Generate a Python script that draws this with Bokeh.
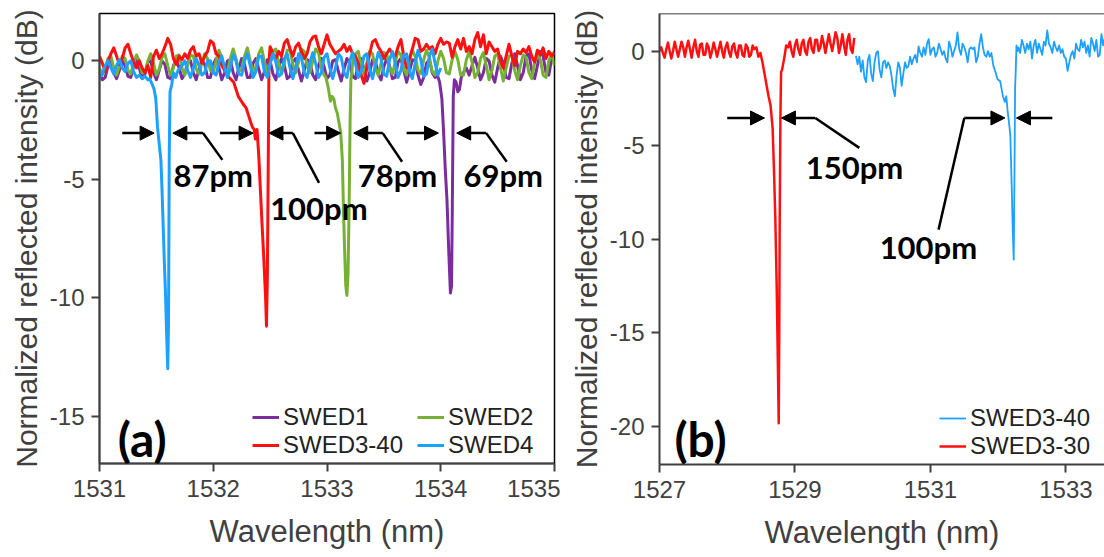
from bokeh.plotting import figure
from bokeh.models import (Range1d, Legend, LegendItem, Arrow, NormalHead, Label, FixedTicker, Span)
from bokeh.layouts import row
from bokeh.embed import file_html
from bokeh.resources import INLINE

# ---------------- data: panel (a) ----------------
STEP = 0.025
# SWED4 (blue)
a4_pre_start = 1531.000
a4_pre_y = [-0.7, -0.55, -0.2, 0.0, -0.3, -0.55, -0.2, 0.05, -0.3, -0.45, -0.1, 0.0, -0.45, -0.7, -0.6, -0.75, -0.65, -0.8]
a4_dip_x = [1531.44, 1531.46, 1531.48, 1531.495, 1531.51, 1531.525, 1531.54, 1531.55, 1531.56, 1531.57, 1531.58, 1531.59, 1531.60, 1531.607, 1531.613, 1531.62, 1531.635, 1531.65, 1531.67, 1531.69, 1531.71]
a4_dip_y = [-0.75, -0.95, -1.2, -1.6, -2.8, -3.5, -4.2, -5.5, -7.0, -8.5, -9.8, -11.5, -13.0, -11.0, -4.0, -1.3, -1.0, -0.5, -0.7, -0.4, -0.3]
a4_post_start = 1531.725
a4_post_y = [-0.2, 0.0, -0.4, -0.7, -0.3, 0.1, -0.2, -0.6, -0.5, 0.0, 0.0, -0.5, -0.6, -0.05, 0.2, -0.3, -0.7, -0.3, 0.25, 0.0,
             -0.55, -0.6, 0.0, 0.3, -0.2, -0.7, -0.45, 0.2, 0.2, -0.45, -0.7, -0.1, 0.3, -0.05, -0.65, -0.55, 0.1, 0.3, -0.3, -0.75,
             -0.3, 0.3, 0.15, -0.5, -0.7, -0.05, 0.35, -0.1, -0.7, -0.5, 0.15, 0.3, -0.3, -0.75, -0.3, 0.3, 0.15, -0.5, -0.7, 0.0,
             0.35, -0.1, -0.7, -0.45, 0.2, 0.3, -0.35, -0.75, -0.2, 0.35, 0.1, -0.55, -0.65, 0.05, 0.4, -0.1, -0.7, -0.4, 0.25, 0.3,
             -0.4, -0.75, -0.1, 0.45, 0.05, -0.65, -0.55, 0.2, 0.5, -0.1, -0.6, -0.3]

# SWED3-40 (red)
a3_pre_start = 1531.000
a3_pre_y = [0.2, -0.1, -0.45, 0.0, 0.3, 0.55, 0.2, -0.15, 0.1, 0.55, 0.7, 0.3, -0.05, -0.3, 0.0, -0.3, -0.5, -0.2, -0.7, 0.2,
            0.45, 0.1, 0.3, 0.6, 0.95, 0.7, 0.1, -0.15, 0.2, 0.05, 0.3, 0.1, 0.45, 0.6, 0.2, 0.3, -0.1, 0.2, 0.4, 0.85,
            0.75, 0.3, 0.2, -0.2, -0.4, -0.6]
a3_dip_x = [1532.14, 1532.18, 1532.22, 1532.26, 1532.29, 1532.31, 1532.33, 1532.345, 1532.36, 1532.37, 1532.385, 1532.40, 1532.415, 1532.43, 1532.445, 1532.46, 1532.468, 1532.476, 1532.484, 1532.49, 1532.50, 1532.51]
a3_dip_y = [-0.7, -0.9, -1.5, -1.8, -2.0, -2.3, -2.6, -2.8, -2.9, -3.3, -2.9, -4.0, -5.5, -7.0, -8.4, -10.0, -11.2, -9.0, -4.0, 0.0, 0.6, 0.5]
a3_post_start = 1532.525
a3_post_y = [0.3, 0.1, 0.4, 0.2, 0.75, 0.9, 0.5, 0.2, 0.6, 0.75, 0.4, 0.1, 0.3, 0.8, 1.0, 1.05, 0.6, 0.3, 0.7, 1.1,
             0.7, 0.5, 0.3, 0.4, 0.5, 0.7, 0.4, 0.6, 0.3, 0.2, -0.1, -0.6, -0.95, -0.3, 0.3, 0.8, 0.9, 0.6, 0.4, 0.1,
             0.3, 0.5, 0.3, 0.2, 0.6, 0.9, 0.2, -0.3, 0.1, 0.5, 0.95, 0.9, 0.4, 0.5, 0.7, 0.5, 0.6, 0.3, 0.7, 0.95,
             0.7, 0.8, 0.75, 0.15, 0.6, 0.9, 0.5, 0.95, 0.4, 0.6, 0.3, 0.9, 1.2, 0.6, 1.1, 0.3, 0.8, 0.6, 0.4, 0.5,
             0.0, -0.3, 0.2, 0.7, 0.2, -0.2, 0.4, 0.3, 0.5, 0.35, 0.6, 0.2, -0.05, 0.45, 0.25, 0.55, 0.1, 0.4, 0.2, 0.35]

# SWED2 (green)
a2_pre_start = 1531.000
a2_pre_y = [-0.3, -0.6, -0.4, 0.1, 0.2, -0.3, -0.6, -0.2, 0.2, 0.1, -0.4, -0.55, -0.1, 0.25, 0.0, -0.5, -0.5, 0.0, 0.3, -0.1,
            -0.6, -0.35, 0.15, 0.3, -0.2, -0.6, -0.3, 0.2, 0.25, -0.3, -0.6, -0.2, 0.25, 0.2, -0.35, -0.55, -0.1, 0.3, 0.1, -0.4,
            -0.5, 0.0, 0.45, 0.15, -0.4, -0.45, 0.1, 0.5, 0.1, -0.45, -0.35, 0.2, 0.55, 0.0, -0.45, -0.25, 0.3, 0.55, -0.05, -0.5,
            -0.15, 0.4, 0.5, -0.1, -0.5, -0.1, 0.45, 0.45, -0.15, -0.5, -0.05, 0.5, 0.4, -0.2, -0.5, 0.0, 0.5, 0.35, -0.3, -0.6]
a2_dip_x = [1532.99, 1533.01, 1533.03, 1533.045, 1533.06, 1533.075, 1533.09, 1533.105, 1533.12, 1533.135, 1533.145, 1533.155, 1533.165, 1533.175, 1533.185, 1533.195, 1533.203, 1533.21, 1533.22, 1533.23]
a2_dip_y = [-0.7, -1.1, -1.7, -1.5, -1.6, -2.0, -2.2, -2.6, -3.0, -4.2, -6.3, -8.0, -9.5, -9.9, -9.0, -6.0, -2.5, -0.8, -0.4, 0.2]
a2_post_start = 1533.250
a2_post_y = [0.3, 0.4, -0.2, -0.55, -0.1, 0.4, 0.3, -0.3, -0.6, -0.1, 0.35, 0.3, -0.3, -0.55, -0.05, 0.4, 0.25, -0.35, -0.6, 0.0,
             0.45, 0.2, -0.4, -0.55, 0.05, 0.45, 0.15, -0.45, -0.6, 0.0, 0.4, 0.1, -0.5, -0.55, 0.05, 0.4, 0.05, -0.6, -0.6, 0.05,
             0.4, -0.05, -0.7, -0.5, 0.1, 0.35, -0.2, -0.8, -0.4, 0.2, 0.3, -0.3, -0.85, -0.3, 0.2, 0.25, -0.4, -0.8, -0.2, 0.25,
             0.15, -0.5, -0.75, -0.1, 0.3, 0.05, -0.6, -0.7, 0.0, 0.3, -0.2]

# SWED1 (purple)
a1_pre_start = 1531.000
a1_pre_y = [-0.4, -0.8, -0.7, -0.2, 0.0, -0.5, -0.75, -0.4, 0.0, -0.2, -0.65, -0.7, -0.2, 0.05, -0.3, -0.75, -0.55, -0.05, 0.0, -0.5,
            -0.8, -0.4, 0.0, -0.15, -0.7, -0.75, -0.2, 0.05, -0.3, -0.75, -0.55, -0.05, 0.0, -0.5, -0.8, -0.35, 0.05, -0.15, -0.7, -0.7,
            -0.15, 0.1, -0.3, -0.8, -0.5, 0.0, 0.05, -0.5, -0.8, -0.3, 0.1, -0.15, -0.7, -0.7, -0.1, 0.1, -0.35, -0.8, -0.45, 0.05,
            0.0, -0.55, -0.8, -0.25, 0.1, -0.2, -0.75, -0.65, -0.05, 0.1, -0.4, -0.85, -0.4, 0.05, -0.05, -0.6, -0.8, -0.2, 0.1, -0.25,
            -0.75, -0.6, 0.0, 0.05, -0.45, -0.85, -0.35, 0.1, -0.1, -0.65, -0.75, -0.1, 0.1, -0.35, -0.85, -0.5, 0.05, 0.0, -0.55, -0.8,
            -0.25, 0.1, -0.2, -0.75, -0.7, -0.05, 0.1, -0.4, -0.9, -0.45, 0.05, 0.0, -0.6, -1.0, -0.7, -0.1, 0.05, -0.5, -0.7]
a1_dip_x = [1533.97, 1533.99, 1534.01, 1534.025, 1534.04, 1534.055, 1534.07, 1534.085, 1534.095, 1534.102, 1534.11, 1534.12, 1534.135, 1534.15, 1534.165, 1534.18, 1534.20, 1534.21]
a1_dip_y = [-0.6, -0.9, -1.6, -3.0, -4.6, -5.9, -8.0, -9.8, -9.5, -6.0, -1.5, -0.8, -0.9, -1.3, -1.2, -0.7, -0.5, -0.4]
a1_post_start = 1534.225
a1_post_y = [-0.3, -0.6, -0.2, 0.15, -0.3, -0.8, -0.5, 0.1, 0.0, -0.6, -0.9, -0.3, 0.2, -0.1, -0.7, -0.75, -0.1, 0.3, -0.2, -0.8,
             -0.5, 0.2, 0.3, -0.4, -0.75, -0.2, 0.4, 0.2, -0.5, -0.6, 0.1, 0.4]

# ---------------- data: panel (b) ----------------
# SWED3-30 (red)
b30_pre_start = 1527.000
b30_pre_y = [0.0, 0.2, -0.1, -0.35, 0.1, 0.45, 0.0, -0.4, 0.0, 0.5, 0.1, -0.3, 0.1, 0.5, 0.2, -0.3, 0.2, 0.55, 0.1, -0.35,
             0.2, 0.6, 0.0, -0.3, 0.35, 0.4, -0.2, -0.2, 0.4, 0.2, -0.35, 0.0, 0.45, 0.1, -0.3, 0.1, 0.5, 0.0, -0.35, 0.2,
             0.45, -0.05, -0.3, 0.25, 0.4, -0.1, -0.35, 0.3, 0.3, -0.2, -0.3, 0.35, 0.2, -0.3, -0.2, 0.3]
b30_dip_x = [1528.40, 1528.43, 1528.46, 1528.49, 1528.52, 1528.55, 1528.58, 1528.61, 1528.64, 1528.67, 1528.69, 1528.71, 1528.73, 1528.745, 1528.76, 1528.768, 1528.775, 1528.785, 1528.795, 1528.81, 1528.83, 1528.85, 1528.87]
b30_dip_y = [0.1, 0.2, -0.3, -0.1, -0.6, -1.2, -1.8, -2.4, -2.9, -4.1, -6.3, -8.9, -12.5, -16.0, -19.8, -15.0, -8.9, -3.6, -1.1, -1.0, -0.6, -0.2, 0.3]
b30_post_start = 1528.900
b30_post_y = [0.2, 0.5, 0.0, -0.3, 0.3, 0.6, 0.1, -0.2, 0.4, 0.6, 0.0, -0.2, 0.5, 0.7, 0.1, -0.1, 0.6, 0.6, 0.0, 0.2,
              0.8, 0.4, -0.1, 0.4, 0.9, 0.4, 0.0, 0.5, 1.0, 0.7, -0.1, 0.3, 0.9, 0.3, -0.2, 0.6, 0.9, 0.1, -0.1, 0.7]

# SWED3-40 (blue)
b40_pre_start = 1529.900
b40_pre_y = [-0.25, -0.7, -0.3, -1.1, -0.5, -1.4, -1.65, -0.5, -0.2, -1.2, -1.6, -0.6, -0.1, 0.0, -1.0, -1.4, -0.6, -0.5, -0.9, -0.6,
             -0.8, -1.3, -2.0, -2.4, -1.3, -0.6, -0.9, -1.85, -1.2, -0.6, -0.9, -0.8, -0.3, -0.7, -0.4, -0.2, -0.6, 0.25, -0.1, -0.3,
             0.2, -0.2, 0.4, 0.64, -0.2, 0.1, 0.2, -0.3, -0.1, 0.4, 0.1, -0.2, 0.0, -0.4, -0.6, 0.5, 0.2, -0.3, 0.0, 0.3,
             1.0, 0.1, -0.2, 0.4, 0.2, -0.1, -0.6, 0.1, 0.2, 0.1, 0.2, -0.6, -0.3, 0.4, 0.9, 0.2, -0.2, -0.3, 0.0, -0.3, -0.1]
b40_dip_x = [1531.93, 1531.96, 1531.99, 1532.03, 1532.07, 1532.10, 1532.12, 1532.14, 1532.16, 1532.18, 1532.20, 1532.215, 1532.23, 1532.24, 1532.25, 1532.26, 1532.27, 1532.29]
b40_dip_y = [-0.8, -1.1, -1.5, -1.6, -2.4, -2.7, -2.4, -3.2, -3.8, -4.5, -7.2, -9.5, -11.1, -7.0, -2.0, -1.0, 0.3, 0.0]
b40_post_start = 1532.300
b40_post_y = [0.2, -0.1, 0.6, 0.3, -0.1, 0.4, 0.1, 0.5, -0.4, 0.3, 0.6, -0.1, 0.4, 0.1, -0.2, 0.5, 0.3, 1.1, 0.4, 0.2,
              -0.1, 0.5, 0.2, 0.0, 0.3, -0.1, 0.1, -0.3, -0.4, -1.05, -0.6, -0.2, 0.0, -0.4, 0.4, 0.1, 0.0, 0.6, 0.2, 0.5,
              -0.1, 0.3, -0.3, 0.7, 0.4, 0.0, 0.6, -0.3, -0.2, 0.9, 0.3, 0.7, 0.2, 0.5, -0.1, 0.4]

# ---------------- annotation data ----------------
a_arrow_y = -3.05
a_right_arrows = [(1531.20, 1531.48), (1532.06, 1532.35), (1532.89, 1533.12), (1533.70, 1533.98)]
a_left_arrows = [(1531.91, 1531.645), (1532.70, 1532.49), (1533.49, 1533.235), (1534.40, 1534.14)]
a_leader_ends = [(1532.08, -4.18), (1532.93, -5.15), (1533.66, -4.26), (1534.58, -4.26)]
a_texts = [("87pm", 1531.65, -4.8), ("100pm", 1532.50, -6.2), ("78pm", 1533.27, -4.8), ("69pm", 1534.20, -4.8)]

b_arrow_y = -3.56
b_right_arrows = [(1528.00, 1528.55), (1531.50, 1532.10)]
b_left_arrows = [(1529.30, 1528.80), (1532.80, 1532.27)]
b_leaders = [((1529.30, -3.56), (1529.95, -5.15)), ((1531.50, -3.56), (1531.12, -9.5))]
b_texts = [("150pm", 1529.16, -6.15), ("100pm", 1530.25, -10.4)]

a_yticks = [0, -5, -10, -15]
b_yticks = [0, -5, -10, -15, -20]
a_xticks = [1531, 1532, 1533, 1534, 1535]
b_xticks = [1527, 1529, 1531, 1533]

C_PURPLE = "#7B2D9E"
C_GREEN = "#76B134"
C_RED = "#FF1010"
C_BLUE = "#1EA0FF"
AX = "#404040"


def grid(start, n):
    return [round(start + STEP * i, 4) for i in range(n)]


def series(pre_start, pre_y, dip_x, dip_y, post_start, post_y):
    xs = grid(pre_start, len(pre_y)) + list(dip_x) + grid(post_start, len(post_y))
    ys = list(pre_y) + list(dip_y) + list(post_y)
    return xs, ys


def style(p, xticks, yticks):
    p.xaxis.ticker = FixedTicker(ticks=xticks)
    p.yaxis.ticker = FixedTicker(ticks=yticks)
    p.yaxis.major_label_overrides = {t: str(t) for t in yticks}
    p.xgrid.visible = False
    p.ygrid.visible = False
    for ax in (p.xaxis[0], p.yaxis[0]):
        ax.major_tick_out = 8
        ax.major_tick_in = 0
        ax.minor_tick_out = 0
        ax.minor_tick_in = 0
        ax.axis_line_color = AX
        ax.axis_line_width = 2
        ax.major_tick_line_color = AX
        ax.major_tick_line_width = 2
        ax.major_label_text_font = "Liberation Sans"
        ax.major_label_text_font_size = "24px"
        ax.major_label_text_color = AX
        ax.axis_label_text_font = "Liberation Sans"
        ax.axis_label_text_font_style = "normal"
        ax.axis_label_text_color = AX
    p.xaxis.axis_label_text_font_size = "31px"
    p.yaxis.axis_label_text_font_size = "30px"
    p.xaxis.major_label_standoff = 8
    p.xaxis.axis_label_standoff = 14
    p.yaxis.major_label_standoff = 7
    p.yaxis.axis_label_standoff = 4
    p.background_fill_color = "white"
    p.border_fill_color = "white"


def annotate_text(p, txt, x, y, size="31px"):
    p.add_layout(Label(x=x, y=y, text=txt, text_font="Lato", text_font_style="bold",
                       text_font_size=size, text_color="black", text_baseline="middle", text_align="left"))


def arrow(p, x0, y0, x1, y1):
    p.add_layout(Arrow(end=NormalHead(size=14, fill_color="black", line_color="black", line_width=1),
                       x_start=x0, y_start=y0, x_end=x1, y_end=y1,
                       line_color="black", line_width=2.5))


def make_legend(items, loc):
    return Legend(items=items, orientation="vertical", location=loc,
                  label_text_font="Liberation Sans", label_text_font_size="24px", label_text_color="#222222",
                  glyph_width=27, glyph_height=24, label_height=24, label_standoff=4, spacing=0,
                  padding=0, margin=0, border_line_alpha=0, background_fill_alpha=0)


# ---------------- panel (a) ----------------
pa = figure(frame_width=455, frame_height=450, min_border_left=99, min_border_right=6,
            min_border_top=13, min_border_bottom=94,
            x_range=Range1d(1531, 1535), y_range=Range1d(-17, 2),
            output_backend="svg", toolbar_location=None,
            x_axis_label="Wavelength (nm)", y_axis_label="Normalized reflected intensity (dB)")
style(pa, a_xticks, a_yticks)
pa.outline_line_color = "black"
pa.outline_line_width = 1.5

x1, y1 = series(a1_pre_start, a1_pre_y, a1_dip_x, a1_dip_y, a1_post_start, a1_post_y)
x2, y2 = series(a2_pre_start, a2_pre_y, a2_dip_x, a2_dip_y, a2_post_start, a2_post_y)
x3, y3 = series(a3_pre_start, a3_pre_y, a3_dip_x, a3_dip_y, a3_post_start, a3_post_y)
x4, y4 = series(a4_pre_start, a4_pre_y, a4_dip_x, a4_dip_y, a4_post_start, a4_post_y)
r1 = pa.line(x1, y1, line_color=C_PURPLE, line_width=3, line_join="round")
r2 = pa.line(x2, y2, line_color=C_GREEN, line_width=3, line_join="round")
r3 = pa.line(x3, y3, line_color=C_RED, line_width=3, line_join="round")
r4 = pa.line(x4, y4, line_color=C_BLUE, line_width=3, line_join="round")

for (xs, xe) in a_right_arrows:
    arrow(pa, xs, a_arrow_y, xe, a_arrow_y)
for (xs, xe), (lx, ly) in zip(a_left_arrows, a_leader_ends):
    arrow(pa, xs, a_arrow_y, xe, a_arrow_y)
    pa.line([xs, lx], [a_arrow_y, ly], line_color="black", line_width=2.5)
for t, x, y in a_texts:
    annotate_text(pa, t, x, y)
annotate_text(pa, "(a)", 1531.16, -15.95, size="48px")

pa.add_layout(make_legend([LegendItem(label="SWED1", renderers=[r1]),
                           LegendItem(label="SWED3-40", renderers=[r3])], (153, 4)))
pa.add_layout(make_legend([LegendItem(label="SWED2", renderers=[r2]),
                           LegendItem(label="SWED4", renderers=[r4])], (318, 4)))

# ---------------- panel (b) ----------------
pb = figure(frame_width=445, frame_height=451, min_border_left=99, min_border_right=0,
            min_border_top=13, min_border_bottom=93,
            x_range=Range1d(1527, 1533.57), y_range=Range1d(-22, 2),
            output_backend="svg", toolbar_location=None,
            x_axis_label="Wavelength (nm)", y_axis_label="Normalized reflected intensity (dB)")
style(pb, b_xticks, b_yticks)
pb.outline_line_color = None
pb.add_layout(Span(location=2, dimension="width", line_color="black", line_width=1.5))

xb30, yb30 = series(b30_pre_start, b30_pre_y, b30_dip_x, b30_dip_y, b30_post_start, b30_post_y)
xb40, yb40 = series(b40_pre_start, b40_pre_y, b40_dip_x, b40_dip_y, b40_post_start, b40_post_y)
rb30 = pb.line(xb30, yb30, line_color=C_RED, line_width=2.5, line_join="round")
rb40 = pb.line(xb40, yb40, line_color=C_BLUE, line_width=1.8, line_join="round")

for (xs, xe) in b_right_arrows:
    arrow(pb, xs, b_arrow_y, xe, b_arrow_y)
for (xs, xe) in b_left_arrows:
    arrow(pb, xs, b_arrow_y, xe, b_arrow_y)
for (p0, p1) in b_leaders:
    pb.line([p0[0], p1[0]], [p0[1], p1[1]], line_color="black", line_width=2.5)
for t, x, y in b_texts:
    annotate_text(pb, t, x, y)
annotate_text(pb, "(b)", 1527.22, -20.6, size="48px")

pb.add_layout(make_legend([LegendItem(label="SWED3-40", renderers=[rb40]),
                           LegendItem(label="SWED3-30", renderers=[rb30])], (280, 4)))

layout = row(pa, pb)
open("out.html", "w").write(file_html(layout, INLINE))
